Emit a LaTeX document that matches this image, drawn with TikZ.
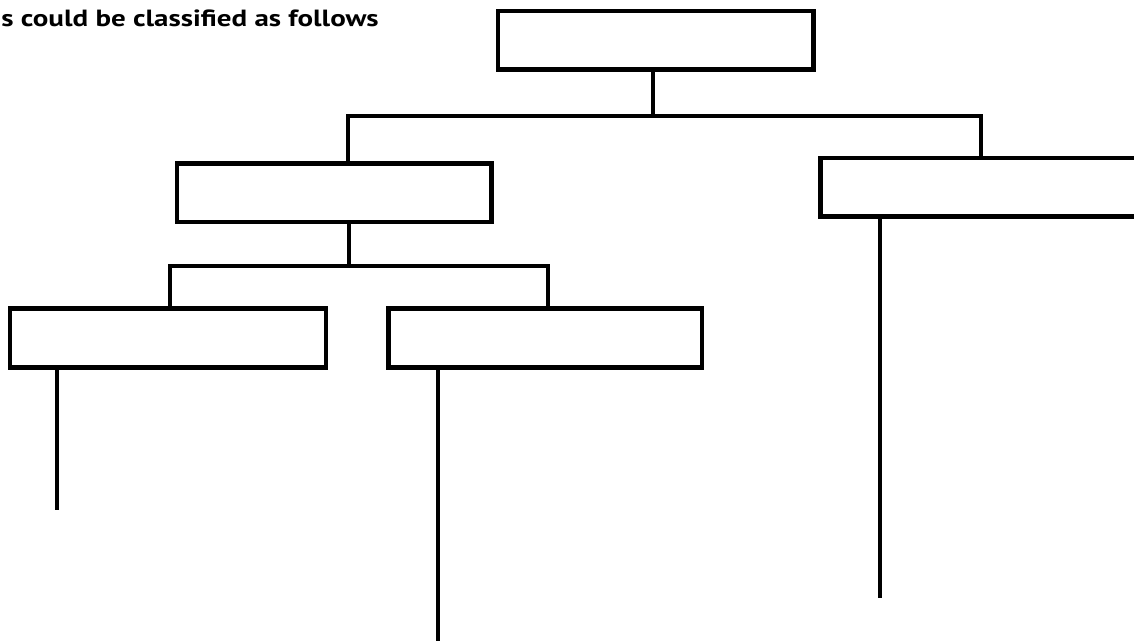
\documentclass[tikz,border=0pt]{standalone}
\usepackage{fontspec}
\usepackage{graphicx}
\newfontfamily\capfont{PT Sans}
\begin{document}
\begin{tikzpicture}[x=0.75pt,y=-0.75pt,
  box/.style={draw=black,line width=3.4pt,minimum width=236pt,minimum height=44pt,inner sep=0pt,outer sep=0pt,fill=white},
  link/.style={draw=black,line width=3pt}]
\useasboundingbox (0,0) rectangle (1134,641);
\clip (0,0) rectangle (1134,641);
\fill[white] (0,0) rectangle (1134,641);
% caption
\node[anchor=base west,inner sep=0pt] (cap) at (1,26.7)
  {\resizebox{283pt}{12.5pt}{\capfont\bfseries s could be classified as follows}};
% boxes
\node[box,minimum width=236.5pt] (top) at (655.75,40.3) {};
\node[box] (midl) at (334.15,192.75) {};
\node[box,minimum width=250pt] (midr) at (987,187.25) {};
\node[box,minimum width=237pt] (botl) at (167.8,338) {};
\node[box,minimum width=235pt] (botm) at (545.25,338) {};
% junctions
\coordinate (j1) at (652.8,115.7);
\coordinate (l1) at (348,115.7);
\coordinate (r1) at (980.6,115.7);
\coordinate (j2) at (349.3,265.7);
\coordinate (l2) at (170,265.7);
\coordinate (r2) at (548,265.7);
\coordinate (e1) at (57,510);
\coordinate (e2) at (437.7,645);
\coordinate (e3) at (879.7,597.7);
% connectors
\draw[link] (top.south -| j1) -- (j1);
\draw[link] (midl.north -| l1) -- (l1) -- (r1) -- (midr.north -| r1);
\draw[link] (midl.south -| j2) -- (j2);
\draw[link] (botl.north -| l2) -- (l2) -- (r2) -- (botm.north -| r2);
\draw[link] (botl.south -| e1) -- (e1);
\draw[link] (botm.south -| e2) -- (e2);
\draw[link] (midr.south -| e3) -- (e3);
\end{tikzpicture}
\end{document}
